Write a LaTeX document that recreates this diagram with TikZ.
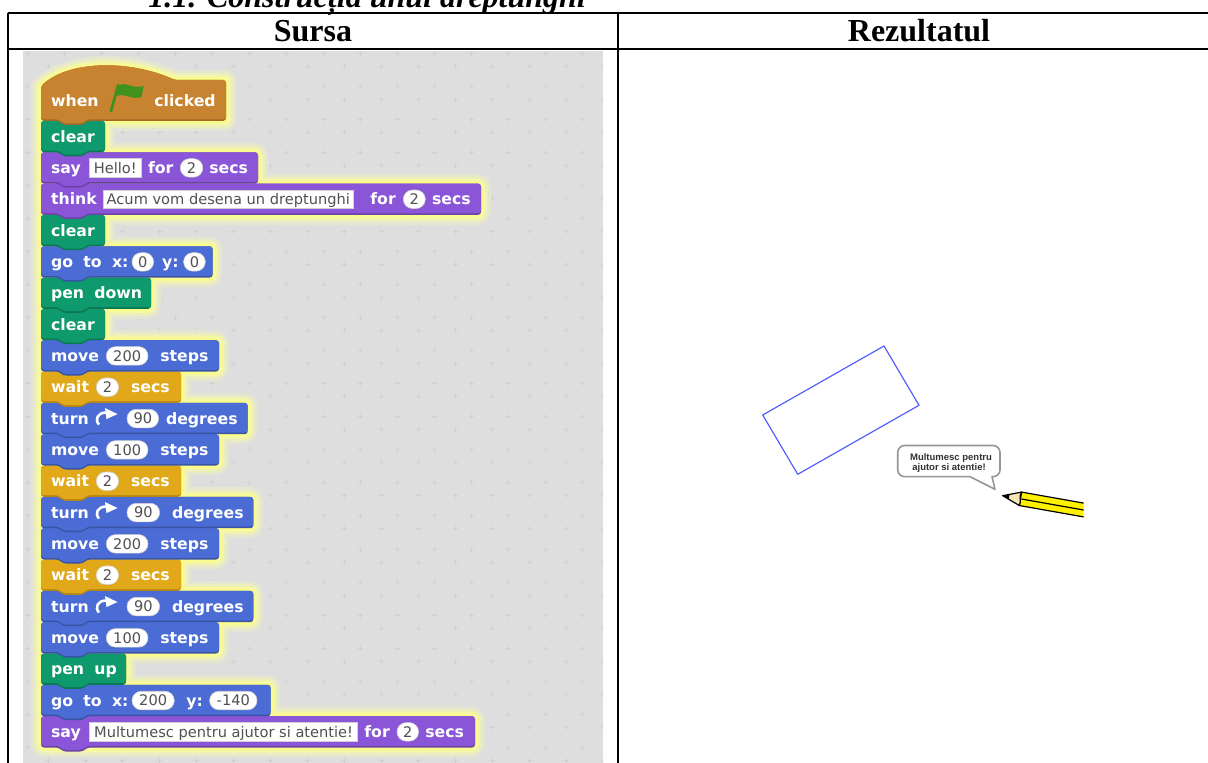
\documentclass[tikz,border=0pt]{standalone}
\usepackage{fontspec}
\setmainfont{Liberation Serif}
\newfontfamily\scrfam{DejaVu Sans}
\newfontfamily\bubfam{Liberation Sans}
\definecolor{bg}{RGB}{221,222,221}
\definecolor{dotc}{RGB}{207,209,207}
\definecolor{motion}{HTML}{4A6CD4}
\definecolor{looks}{HTML}{8A55D7}
\definecolor{pen}{HTML}{0E9A6C}
\definecolor{control}{HTML}{E1A91A}
\definecolor{events}{HTML}{C88330}
\colorlet{motionD}{motion!78!black}
\colorlet{looksD}{looks!78!black}
\colorlet{penD}{pen!78!black}
\colorlet{controlD}{control!80!black}
\colorlet{eventsD}{events!80!black}
\definecolor{flaggreen}{RGB}{64,145,30}
\definecolor{fieldtxt}{RGB}{80,80,80}
\definecolor{rectblue}{RGB}{85,95,255}
\definecolor{bubbleline}{RGB}{150,150,150}
\definecolor{bubtext}{RGB}{50,50,50}
\definecolor{pencilyellow}{RGB}{255,240,0}
\definecolor{wood}{RGB}{245,230,180}
\definecolor{glowa}{RGB}{252,252,140}
\definecolor{glowb}{RGB}{246,247,165}
\definecolor{glowc}{RGB}{237,238,190}
\definecolor{glowd}{RGB}{228,229,210}
\newcommand\blkfont{\scrfam\bfseries\fontsize{7.85pt}{9pt}\selectfont\spaceskip=5.15pt\relax}
\newcommand\fldfont{\scrfam\fontsize{7.3pt}{8.5pt}\selectfont}
\newcommand\blkshape[4]{\path[#1] (41,#3) -- (41,#2) -- (#4,#2) -- (#4,#3) -- (87,#3) -- (83,#3+4) -- (63,#3+4) -- (59,#3) -- cycle;}
\newcommand\hatshape[2]{\path[#1] (41,#2) -- (41,86) .. controls (70,60) and (130,60) .. (175,80) -- (226,80) -- (226,#2) -- (87,#2) -- (83,#2+4) -- (63,#2+4) -- (59,#2) -- cycle;}
\newcommand\lbl[4]{\node[lbl] (#1) at (#2,#3+5.5) {#4};}
\newcommand\fld[5]{\node[fld, minimum width=#4] (#1) at (#2,#3) {#5};}
\newcommand\pill[5]{\node[pill, minimum width=#4] (#1) at (#2,#3) {#5};}
\newcommand\turnicon[1]{%
  \draw[white, line width=1.3pt] (99,#1+6) .. controls (94.5,#1+1) and (97.5,#1-6) .. (106,#1-6);
  \fill[white] (105,#1-10.5) -- (117.5,#1-4.5) -- (106.5,#1+0.5) -- cycle;}
\begin{document}
\begin{tikzpicture}[x=0.5pt,y=-0.5pt,
  lbl/.style={font=\blkfont, text=white, inner sep=0pt, anchor=base west},
  fld/.style={fill=white, draw=black!18, line width=0.3pt, inner sep=0pt, minimum height=9.25pt, text height=5.3pt, text depth=0pt, font=\fldfont, text=fieldtxt, anchor=west},
  pill/.style={fld, rounded corners=4.6pt},
  head/.style={font=\bfseries\fontsize{16pt}{19pt}\selectfont, inner sep=0pt, anchor=base},
  bubtxt/.style={font=\bubfam\bfseries\fontsize{4.75pt}{5.5pt}\selectfont, text=bubtext, inner sep=0pt, anchor=base},
  rule/.style={line width=1pt, black}]
\useasboundingbox (0,0) rectangle (1208,763);
\clip (0,0) rectangle (1208,763);
\fill[white] (0,0) rectangle (1208,763);
% scratch area
\fill[bg] (23,51) rectangle (603,763);
\begin{scope}
\clip (23,51) rectangle (603,763);
\foreach \m in {0,...,15}{
  \foreach \k in {0,...,21}{
    \pgfmathsetmacro\xa{582-37*\m}\pgfmathsetmacro\ya{54+33*\k}
    \pgfmathsetmacro\xb{603-37*\m}\pgfmathsetmacro\yb{67+33*\k}
    \draw[dotc, line width=0.5pt] (\xa-2.5,\ya) -- (\xa+2.5,\ya) (\xa,\ya-2.5) -- (\xa,\ya+2.5)
      (\xb-2.5,\yb) -- (\xb+2.5,\yb) (\xb,\yb-2.5) -- (\xb,\yb+2.5);
  }}
\end{scope}
% glow
\foreach \w/\gc in {10pt/glowd, 7pt/glowc, 4.5pt/glowb, 2.2pt/glowa}{
  \hatshape{line width=\w, draw=\gc, fill=\gc, line join=round}{120.94}
  \foreach \k/\rx in {1/105,2/258,3/481,4/105,5/212.7,6/151,7/105,8/219,9/181,10/247.7,11/219,12/181,13/253.3,14/219,15/181,16/253.3,17/219,18/126,19/270.7,20/475}{
    \pgfmathsetmacro\cc{136.6+31.33*(\k-1)}
    \draw[line width=\w, draw=\gc, fill=\gc, rounded corners=2pt] (41,\cc-15.66) rectangle (\rx,\cc+15.66);
  }}
% block bodies, bottom to top
\foreach \k/\col/\rx in {20/looks/475,19/motion/270.7,18/pen/126,17/motion/219,16/motion/253.3,15/control/181,14/motion/219,13/motion/253.3,12/control/181,11/motion/219,10/motion/247.7,9/control/181,8/motion/219,7/pen/105,6/pen/151,5/motion/212.7,4/pen/105,3/looks/481,2/looks/258,1/pen/105}{
  \pgfmathsetmacro\cc{136.6+31.33*(\k-1)}
  \pgfmathsetmacro\bT{\cc-15.66}\pgfmathsetmacro\bB{\cc+15.66}\pgfmathsetmacro\bL{\cc+14}
  \blkshape{fill=\col D, rounded corners=1.5pt}{\bT}{\bB}{\rx}
  \blkshape{fill=\col, rounded corners=1.5pt}{\bT}{\bL}{\rx}
}
\hatshape{fill=eventsD, rounded corners=1.5pt}{120.94}
\hatshape{fill=events, rounded corners=1.5pt}{119.3}
% flag
\draw[flaggreen, line width=1.4pt, line cap=round] (111,111) -- (118.3,85);
\fill[flaggreen] (118,85.5) .. controls (126,81) and (134,90) .. (143.5,86) -- (141.5,97) .. controls (132,100.5) and (124,92) .. (115.3,96.5) -- cycle;
% block texts
\lbl{t0a}{50.7}{101}{when}
\lbl{t0b}{154}{101}{clicked}
\lbl{t1}{50.7}{136.6}{clear}
\lbl{t2a}{50.7}{167.93}{say}
\fld{f2}{89.3}{167.93}{25.7pt}{Hello!}
\lbl{t2b}{147.7}{167.93}{for}
\pill{p2}{180}{167.93}{11.25pt}{2}
\lbl{t2c}{209}{167.93}{secs}
\lbl{t3a}{50.7}{199.26}{think}
\fld{f3}{102.7}{199.26}{125.3pt}{Acum vom desena un dreptunghi}
\lbl{t3b}{370}{199.26}{for}
\pill{p3}{403}{199.26}{11pt}{2}
\lbl{t3c}{431.7}{199.26}{secs}
\lbl{t4}{50.7}{230.59}{clear}
\lbl{t5a}{50.7}{261.92}{go to x:}
\pill{p5a}{131.7}{261.92}{10.8pt}{0}
\lbl{t5b}{161.7}{261.92}{y:}
\pill{p5b}{183.3}{261.92}{10.85pt}{0}
\lbl{t6}{50.7}{293.25}{pen down}
\lbl{t7}{50.7}{324.58}{clear}
\lbl{t8a}{50.7}{355.91}{move}
\pill{p8}{106}{355.91}{20.85pt}{200}
\lbl{t8b}{160}{355.91}{steps}
\lbl{t9a}{50.7}{387.24}{wait}
\pill{p9}{96}{387.24}{11.15pt}{2}
\lbl{t9b}{130.7}{387.24}{secs}
\lbl{t10a}{50.7}{418.57}{turn}
\turnicon{418.57}
\pill{p10}{126.7}{418.57}{15.8pt}{90}
\lbl{t10b}{165.7}{418.57}{degrees}
\lbl{t11a}{50.7}{449.90}{move}
\pill{p11}{106}{449.90}{20.85pt}{100}
\lbl{t11b}{160}{449.90}{steps}
\lbl{t12a}{50.7}{481.23}{wait}
\pill{p12}{96}{481.23}{11.15pt}{2}
\lbl{t12b}{130.7}{481.23}{secs}
\lbl{t13a}{50.7}{512.56}{turn}
\turnicon{512.56}
\pill{p13}{126.7}{512.56}{16.3pt}{90}
\lbl{t13b}{171.7}{512.56}{degrees}
\lbl{t14a}{50.7}{543.89}{move}
\pill{p14}{106}{543.89}{20.85pt}{200}
\lbl{t14b}{160}{543.89}{steps}
\lbl{t15a}{50.7}{575.22}{wait}
\pill{p15}{96}{575.22}{11.15pt}{2}
\lbl{t15b}{130.7}{575.22}{secs}
\lbl{t16a}{50.7}{606.55}{turn}
\turnicon{606.55}
\pill{p16}{126.7}{606.55}{16.3pt}{90}
\lbl{t16b}{171.7}{606.55}{degrees}
\lbl{t17a}{50.7}{637.88}{move}
\pill{p17}{106}{637.88}{20.85pt}{100}
\lbl{t17b}{160}{637.88}{steps}
\lbl{t18}{50.7}{669.21}{pen up}
\lbl{t19a}{50.7}{700.54}{go to x:}
\pill{p19a}{131.7}{700.54}{21.15pt}{200}
\lbl{t19b}{186}{700.54}{y:}
\pill{p19b}{209.3}{700.54}{23.7pt}{-140}
\lbl{t20a}{50.7}{731.87}{say}
\fld{f20}{89.3}{731.87}{134pt}{Multumesc pentru ajutor si atentie!}
\lbl{t20b}{364}{731.87}{for}
\pill{p20}{396.7}{731.87}{10.8pt}{2}
\lbl{t20c}{425}{731.87}{secs}
% table
\draw[rule] (7.5,13) -- (1208,13);
\draw[rule] (7.5,49.5) -- (1208,49.5);
\draw[rule] (8,13) -- (8,763);
\draw[rule] (618,13) -- (618,763);
\node[head] (hsrc) at (313,42) {Sursa};
\node[head] (hres) at (919,42) {Rezultatul};
\node[anchor=base west, inner sep=0pt, font=\bfseries\itshape\fontsize{16pt}{19pt}\selectfont] (title) at (148,7.5) {1.1. Construcția unui dreptunghi};
% result: rectangle
\draw[rectblue, line width=0.6pt, line join=round] (762.7,415) -- (884,346) -- (919,405.3) -- (797.7,474.3) -- cycle;
% speech bubble
\draw[bubbleline, line width=0.8pt, fill=white, line join=round]
  [rounded corners=3.5pt] (970,476.7) -- (897.7,476.7) -- (897.7,445.5) -- (1000,445.5) -- (1000,476.7)
  [sharp corners] -- (992,476.7) -- (995,489.3) -- cycle;
\node[bubtxt] (b1) at (951,460.1) {Multumesc pentru};
\node[bubtxt] (b2) at (949,470.2) {ajutor si atentie!};
% pencil
\begin{scope}
\clip (990,480) rectangle (1083.5,525);
\fill[pencilyellow, draw=black, line width=0.6pt] (1021.6,492.1) -- (1087.6,503.8) -- (1085.2,517.2) -- (1019.2,505.5) -- cycle;
\draw[black, line width=0.6pt] (1021.4,499.0) -- (1087,510.6);
\end{scope}
\fill[wood, draw=black, line width=0.6pt, line join=round] (1002.7,495.7) -- (1021.6,492.1) .. controls (1018.5,496) and (1022,501) .. (1019.2,505.5) -- cycle;
\fill[black] (1002.7,495.7) -- (1009.5,494.5) -- (1008.7,499.1) -- cycle;
\end{tikzpicture}
\end{document}
